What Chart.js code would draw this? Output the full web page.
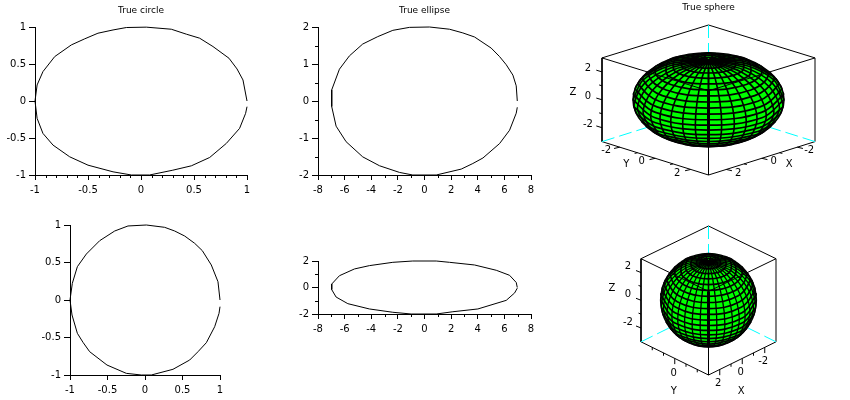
<!DOCTYPE html>
<html>
<head>
<meta charset="utf-8">
<style>
  body { margin: 0; background: #fff; overflow: hidden; width: 850px; height: 400px; position: relative; }
  canvas { position: absolute; }
</style>
<script src="https://cdn.jsdelivr.net/npm/chart.js@4"></script>
</head>
<body>
<script>
// outlines
const circleTopX = [1, .962, .906, .83, .679, .553, .428, .286, .05, -.138, -.264, -.406, -.531, -.657, -.814, -.925, -.98, -1, -.98, -.925, -.83, -.673, -.5, -.264, -.09, .08, .3, .475, .648, .805, .93, .987, 1];
const circleTopY = [0, .284, .433, .578, .736, .849, .903, .97, .998, .993, .96, .916, .84, .758, .6, .397, .217, 0, -.235, -.438, -.596, -.754, -.867, -.957, -1, -1, -.935, -.876, -.763, -.573, -.37, -.167, -.077];
const ellipseTopX = [6.97, 6.89, 6.64, 6.14, 5.64, 5.01, 3.76, 2.88, 1.88, .38, -1.13, -2.38, -3.51, -4.64, -5.64, -6.39, -6.97, -6.97, -6.64, -5.89, -4.64, -3.38, -1.88, -.88, .88, 2.76, 3.63, 4.39, 5.64, 6.39, 6.89, 6.97];
const ellipseTopY = [0, .41, .7, .98, 1.2, 1.43, 1.73, 1.84, 1.94, 2, 1.99, 1.91, 1.74, 1.54, 1.22, .86, .3, -.15, -.68, -1.1, -1.51, -1.75, -1.93, -2, -2, -1.84, -1.69, -1.54, -1.15, -.79, -.33, -.17];
const circleLowX = [1, .973, .884, .764, .662, .529, .396, .262, .018, -.227, -.404, -.604, -.782, -.902, -.969, -1, -.973, -.902, -.827, -.738, -.507, -.249, -.049, .084, .373, .596, .707, .818, .929, .987, 1];
const circleLowY = [0, .244, .467, .658, .756, .853, .92, .969, 1, .987, .92, .791, .613, .444, .222, 0, -.2, -.444, -.564, -.689, -.867, -.978, -1, -1, -.924, -.8, -.689, -.569, -.356, -.178, -.089];
const ellipseLowX = [6.97, 6.89, 6.39, 5.39, 3.76, 1.88, .88, -.88, -2.38, -4.14, -5.26, -6.39, -6.97, -6.97, -6.64, -5.76, -4.14, -2.38, -1, .88, 2.13, 4.01, 6.14, 6.77, 6.97];
const ellipseLowY = [0, .38, .92, 1.3, 1.7, 1.9, 2, 2, 1.9, 1.65, 1.4, .89, .26, -.16, -.72, -1.22, -1.62, -1.87, -2, -2, -1.83, -1.62, -.97, -.41, -.05];

// sphere, in projected units (right half, the left half is its mirror)
const rimX = [0, .259, .5, .707, .866, .966, 1, .966, .866, .707, .5, .259, 0];
const rimY = [1, .966, .866, .707, .5, .259, 0, -.259, -.5, -.707, -.866, -.966, -1];

const parallelX = [
  [0, .113, .113, 0], [0, .224, .224, 0], [0, .332, .332, 0], [0, .433, .433, 0],
  [0, .527, .527, .332], [0, .5, .707, .542], [0, .561, .793, .69], [0, .612, .866, .804],
  [0, .653, .924, .891], [0, .683, .966, .951], [0, .701, .991, .988], [0, .707, 1],
  [0, .701, .987], [0, .683, .951], [0, .653, .891], [0, .612, .804],
  [0, .561, .69], [0, .354, .542], [0, .178, .332]
];
const parallelY = [
  [.762, .797, .869, .904], [.671, .741, .881, .951], [.569, .672, .88, .983], [.457, .592, .862, .997],
  [.337, .502, .83, .942], [.212, .324, .594, .84], [.084, .209, .512, .723], [-.048, .089, .42, .594],
  [-.177, -.031, .322, .455], [-.304, -.151, .218, .308], [-.425, -.268, .11, .155], [-.54, -.382, 0],
  [-.645, -.488, -.155], [-.74, -.587, -.308], [-.821, -.675, -.455], [-.888, -.751, -.594],
  [-.94, -.815, -.723], [-.976, -.925, -.84], [-.995, -.981, -.942]
];

const meridianX = [
  [0, 0, 0, 0, 0, 0], [0, .087, .151, .174, .151, .095], [0, .171, .296, .342, .296, .193],
  [0, .25, .433, .5, .433, .298], [0, .321, .557, .643, .557, .413], [0, .383, .663, .766, .663, .542],
  [0, .433, .75, .866, .75, .683], [0, .47, .814, .94, .814, .83], [0, .492, .853, .985, .95], [0, .5, .866, 1],
  [0, .492, .853, .95], [0, .47, .83], [0, .433, .683], [0, .383, .542],
  [0, .413], [0, .298], [0, .193], [0, .095]
];
const meridianY = [
  [.84, .457, -.048, -.54, -.888, -1], [.84, .461, -.041, -.532, -.881, -.994], [.84, .473, -.02, -.508, -.86, -.98],
  [.84, .493, .015, -.468, -.825, -.954], [.84, .52, .062, -.414, -.778, -.909], [.84, .553, .119, -.347, -.721, -.839],
  [.84, .592, .186, -.27, -.654, -.729], [.84, .635, .26, -.185, -.58, -.557], [.84, .68, .339, -.094, -.311], [.84, .727, .42, 0],
  [.84, .774, .501, .311], [.84, .819, .557], [.84, .862, .729], [.84, .901, .839],
  [.84, .909], [.84, .954], [.84, .98], [.84, .994]
];

const boxX = [0, -1.41, -1.41, 0, 1.41, 1.41, 0];
const boxY = [1.59, .89, -.89, -1.6, -.89, .89, 1.59];
const frontLeftX = [-1.41, 0, 1.41];
const frontLeftY = [.89, .19, .89];
const frontInsideY = [.19, -1];
const frontBelowY = [-1, -1.6];
const frontEdgeX = [0, 0];
const backEdges = [
  { x: [0, 0], y: [1.59, 1] },
  { x: [-1.41, -.81], y: [-.89, -.586] },
  { x: [1.41, .81], y: [-.89, -.586] }
];

const zTicks = [-2, 0, 2];
const zMinor = [-1, 1];

const FONT = { family: "'DejaVu Sans', sans-serif", size: 10 };
const BLACK = "#000000";

function place(left, top, width, height) {
  const cv = document.createElement("canvas");
  cv.width = width;
  cv.height = height;
  cv.style.left = left + "px";
  cv.style.top = top + "px";
  document.body.appendChild(cv);
  return cv;
}

function toPoints(xs, ys) {
  return xs.map((x, i) => ({ x: x, y: ys[i] }));
}

// right half plus its mirror, in drawing order
function mirrored(xs, ys) {
  const right = toPoints(xs, ys);
  const left = right.slice(1).reverse().map((p) => ({ x: -p.x, y: p.y }));
  return left.concat(right);
}

const minorTickPlugin = {
  id: "minorTicks",
  afterDraw(chart, args, opts) {
    const ctx = chart.ctx;
    const area = chart.chartArea;
    ctx.save();
    ctx.strokeStyle = BLACK;
    ctx.lineWidth = 1;
    ctx.beginPath();
    (opts.x || []).forEach((v) => {
      const px = Math.round(chart.scales.x.getPixelForValue(v)) + 0.5;
      ctx.moveTo(px, area.bottom);
      ctx.lineTo(px, area.bottom + 3);
    });
    (opts.y || []).forEach((v) => {
      const py = Math.round(chart.scales.y.getPixelForValue(v)) + 0.5;
      ctx.moveTo(area.left, py);
      ctx.lineTo(area.left - 3, py);
    });
    ctx.stroke();
    ctx.restore();
  },
};

function plot2d(c) {
  const w = c.right - c.left + 70;
  const h = 27 + c.bottom - c.top + 25;
  new Chart(place(c.left - 35, c.top - 27, w, h), {
    type: "scatter",
    data: {
      datasets: [{
        data: toPoints(c.xs, c.ys),
        showLine: true,
        borderColor: BLACK,
        borderWidth: 1,
        pointRadius: 0,
        tension: 0,
        clip: false,
      }],
    },
    plugins: [minorTickPlugin],
    options: {
      responsive: false,
      animation: false,
      events: [],
      layout: { padding: { top: c.title ? 0 : 27 } },
      scales: {
        x: {
          type: "linear",
          min: c.xRange[0],
          max: c.xRange[1],
          afterFit(scale) { scale.height = 25; },
          border: { color: BLACK },
          grid: { drawOnChartArea: false, tickLength: 5, tickColor: BLACK },
          ticks: { stepSize: c.xStep, color: BLACK, font: FONT, padding: 4, maxRotation: 0, autoSkip: false, callback: (v) => String(v) },
        },
        y: {
          type: "linear",
          min: c.yRange[0],
          max: c.yRange[1],
          afterFit(scale) { scale.width = 35; },
          border: { color: BLACK },
          grid: { drawOnChartArea: false, tickLength: 6, tickColor: BLACK },
          ticks: { stepSize: c.yStep, color: BLACK, font: FONT, padding: 3, autoSkip: false, callback: (v) => String(v) },
        },
        // empty right margin, keeps the title centred over the plot
        margin: {
          type: "linear",
          position: "right",
          afterFit(scale) { scale.width = 35; },
          border: { display: false },
          grid: { display: false },
          ticks: { display: false },
        },
      },
      plugins: {
        legend: { display: false },
        tooltip: { enabled: false },
        minorTicks: { x: c.xMinor, y: c.yMinor },
        title: {
          display: !!c.title,
          text: c.title,
          color: BLACK,
          font: { family: FONT.family, size: 9, weight: "normal" },
          padding: { top: 5.5, bottom: 10.7 },
        },
      },
    },
  });
}

function lineSet(points, extra) {
  return Object.assign({
    data: points,
    showLine: true,
    borderColor: BLACK,
    borderWidth: 1,
    pointRadius: 0,
    tension: 0,
    clip: false,
    capBezierPoints: false,
  }, extra);
}

function sphere(c) {
  const datasets = [];
  datasets.push(lineSet(toPoints(frontLeftX, frontLeftY)));
  datasets.push(lineSet(toPoints(frontEdgeX, frontInsideY), { borderWidth: 3 }));
  datasets.push(lineSet(toPoints(frontEdgeX, frontBelowY)));
  parallelX.forEach((xs, i) => datasets.push(lineSet(mirrored(xs, parallelY[i]), { tension: 0.4, borderWidth: 1.7 })));
  meridianX.forEach((xs, i) => {
    const right = toPoints(xs, meridianY[i]);
    datasets.push(lineSet(right, { tension: 0.3, borderWidth: c.meridianWidth }));
    datasets.push(lineSet(right.map((p) => ({ x: -p.x, y: p.y })), { tension: 0.3, borderWidth: c.meridianWidth }));
  });
  datasets.push(lineSet(mirrored(rimX, rimY), {
    tension: 0.4,
    borderWidth: 1.5,
    fill: "shape",
    backgroundColor: "#00ff00",
  }));
  backEdges.forEach((e) => datasets.push(lineSet(toPoints(e.x, e.y), { borderColor: "#00ffff", borderDash: [13, 5] })));
  datasets.push(lineSet(toPoints(boxX, boxY)));

  const labels3d = {
    id: "labels3d",
    afterDraw(chart) {
      const sx = chart.scales.x;
      const sy = chart.scales.y;
      const ctx = chart.ctx;
      const at = (i, j, t) => ({
        x: sx.getPixelForValue(boxX[i] + (boxX[j] - boxX[i]) * t),
        y: sy.getPixelForValue(boxY[i] + (boxY[j] - boxY[i]) * t),
      });
      ctx.save();
      ctx.strokeStyle = BLACK;
      ctx.fillStyle = BLACK;
      ctx.lineWidth = 1;
      ctx.font = FONT.size + "px " + FONT.family;
      ctx.textAlign = "center";
      ctx.textBaseline = "middle";
      const axis = (a, pos) => {
        a.minor.forEach((v) => {
          const p = pos(v);
          ctx.beginPath();
          ctx.moveTo(p.x, p.y);
          ctx.lineTo(p.x + a.tick[0] / 2, p.y + a.tick[1] / 2);
          ctx.stroke();
        });
        a.major.forEach((v) => {
          const p = pos(v);
          ctx.beginPath();
          ctx.moveTo(p.x, p.y);
          ctx.lineTo(p.x + a.tick[0], p.y + a.tick[1]);
          ctx.stroke();
          ctx.fillText(String(v), p.x + a.text[0], p.y + a.text[1]);
        });
        const mid = pos(0);
        ctx.fillText(a.name, mid.x + a.nameAt[0], mid.y + a.nameAt[1]);
      };
      axis(c.z, (v) => at(2, 1, (v + 3) / 6));
      axis(c.y, (v) => at(2, 3, (v + 3) / 6));
      axis(c.x, (v) => at(3, 4, (3 - v) / 6));
      ctx.restore();
    },
  };

  new Chart(place(c.left, c.top, c.width, c.height), {
    type: "scatter",
    data: { datasets: datasets },
    plugins: [labels3d],
    options: {
      responsive: false,
      animation: false,
      events: [],
      layout: { padding: c.pads },
      scales: {
        x: { type: "linear", display: false, min: -1.41, max: 1.41 },
        y: { type: "linear", display: false, min: -1.6, max: 1.59 },
      },
      plugins: {
        legend: { display: false },
        tooltip: { enabled: false },
        title: {
          display: !!c.title,
          text: c.title,
          color: BLACK,
          font: { family: FONT.family, size: 9, weight: "normal" },
          padding: { top: 2.5, bottom: 11.7 },
        },
      },
    },
  });
}

plot2d({ left: 35, right: 247, top: 27, bottom: 175, xs: circleTopX, ys: circleTopY, title: "True circle",
  xRange: [-1, 1], yRange: [-1, 1], xStep: 0.5, yStep: 0.5,
  xMinor: [-.9, -.8, -.7, -.6, -.4, -.3, -.2, -.1, .1, .2, .3, .4, .6, .7, .8, .9], yMinor: [] });
plot2d({ left: 318, right: 531, top: 27, bottom: 175, xs: ellipseTopX, ys: ellipseTopY, title: "True ellipse",
  xRange: [-8, 8], yRange: [-2, 2], xStep: 2, yStep: 1,
  xMinor: [-7, -5, -3, -1, 1, 3, 5, 7], yMinor: [-1.5, -.5, .5, 1.5] });
plot2d({ left: 70, right: 220, top: 225, bottom: 375, xs: circleLowX, ys: circleLowY,
  xRange: [-1, 1], yRange: [-1, 1], xStep: 0.5, yStep: 0.5, xMinor: [], yMinor: [] });
plot2d({ left: 318, right: 531, top: 261, bottom: 314, xs: ellipseLowX, ys: ellipseLowY,
  xRange: [-8, 8], yRange: [-2, 2], xStep: 2, yStep: 2,
  xMinor: [-7, -5, -3, -1, 1, 3, 5, 7], yMinor: [-1, 1] });

sphere({ left: 566, top: 0, width: 284, height: 200, title: "True sphere", meridianWidth: 1.6,
  pads: { left: 36, right: 35, bottom: 25 },
  z: { major: zTicks, minor: zMinor, tick: [-5.7, -1.7], text: [-14, -3.5], name: "Z", nameAt: [-29, -7.5] },
  y: { major: [-2, 0, 2], minor: [-1, 1], tick: [-5.7, 1.3], text: [-13.5, 3.5], name: "Y", nameAt: [-29, 6] },
  x: { major: [-2, 0, 2], minor: [-1, 1], tick: [5.7, 1.3], text: [12, 3.5], name: "X", nameAt: [27.5, 6] } });
sphere({ left: 566, top: 210, width: 284, height: 190, meridianWidth: 1.3,
  pads: { left: 75, right: 74, top: 16, bottom: 25 },
  z: { major: zTicks, minor: zMinor, tick: [-5, -2], text: [-13, -6], name: "Z", nameAt: [-29, -12] },
  y: { major: [0], minor: [-2, -1, 1, 2], tick: [0, 5.7], text: [-1, 14.7], name: "Y", nameAt: [-1, 32.7] },
  x: { major: [-2, 0, 2], minor: [-1, 1], tick: [0, 5.7], text: [-1.5, 14], name: "X", nameAt: [-1, 32.7] } });
</script>
</body>
</html>
